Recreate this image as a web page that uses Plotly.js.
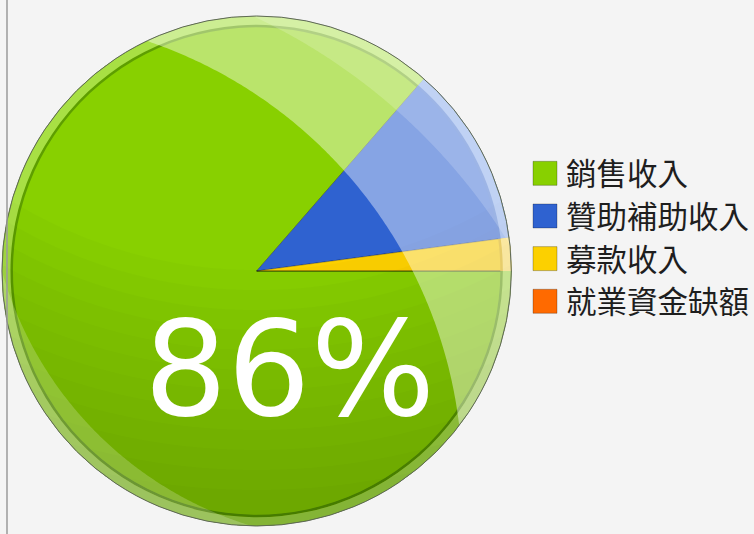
<!DOCTYPE html>
<html><head><meta charset="utf-8">
<script src="https://cdn.plot.ly/plotly-3.0.1.min.js"></script>
<style>html,body{margin:0;padding:0;background:#f4f4f4;}#chart{width:754px;height:534px;}</style>
</head><body><div id="chart"></div>
<script>
// ---- data ----
const labels = ['銷售收入', '贊助補助收入', '募款收入', '就業資金缺額'];
const values = [86.4, 11.5, 2.1, 0];
const colors = ['#88d000', '#2f62d0', '#fcd000', '#ff6a00'];
const rimColors = ['#a8e044', '#7aa0e8', '#ffe060', '#ff9a50'];
const rimLineColors = ['#5e9e00', '#3264cc', '#e0b000', '#e05a00'];

// ---- layout geometry (pixels) ----
const W = 754, H = 534;
const CX = 257, CY = 271, R = 255;
const px = x => x / W, py = y => 1 - y / H;
const dom = {x: [px(CX - R), px(CX + R)], y: [py(CY + R), py(CY - R)]};

// region inside the pie and outside a circle (c2x,c2y,R2) -> decorative gloss path
function glossPath(c2x, c2y, R2) {
  const N = 1440;
  const isIn = t => Math.hypot(CX + R * Math.cos(t) - c2x, CY + R * Math.sin(t) - c2y) > R2;
  let start = -1;
  for (let i = 0; i < N; i++) {
    const a = 2 * Math.PI * i / N, b = 2 * Math.PI * (i + 1) / N;
    if (!isIn(a) && isIn(b)) { start = i + 1; break; }
  }
  if (start < 0) return '';
  const run = [];
  for (let k = 0; k < N; k++) {
    const t = 2 * Math.PI * ((start + k) % N) / N;
    if (!isIn(t)) break;
    run.push([CX + R * Math.cos(t), CY + R * Math.sin(t)]);
  }
  const S = run[0], E = run[run.length - 1];
  const aE = Math.atan2(E[1] - c2y, E[0] - c2x), aS = Math.atan2(S[1] - c2y, S[0] - c2x);
  let d = aS - aE;
  while (d > Math.PI) d -= 2 * Math.PI;
  while (d < -Math.PI) d += 2 * Math.PI;
  const arc = [];
  for (let k = 1; k < 200; k++) {
    const t = aE + d * k / 200;
    arc.push([c2x + R2 * Math.cos(t), c2y + R2 * Math.sin(t)]);
  }
  const all = run.concat(arc);
  return 'M' + all.map(p => px(p[0]).toFixed(5) + ',' + py(p[1]).toFixed(5)).join('L') + 'Z';
}
const gloss = (c, r, fill) => ({type: 'path', xref: 'paper', yref: 'paper', path: glossPath(c[0], c[1], r),
  fillcolor: fill, line: {width: 0}, layer: 'above'});

const total = values.reduce((a, b) => a + b, 0);
const pctText = Math.round(values[0] / total * 100) + '%';

const base = {type: 'pie', labels: labels, values: values, sort: false, direction: 'clockwise',
  rotation: 90, textinfo: 'none', domain: dom, hoverinfo: 'label+percent'};

const traces = [
  Object.assign({}, base, {marker: {colors: colors, line: {color: 'rgba(0,0,0,0.25)', width: 1}}, showlegend: true}),
  Object.assign({}, base, {hole: (R - 11) / R, marker: {colors: rimLineColors, line: {width: 0}}, showlegend: false, hoverinfo: 'skip'}),
  Object.assign({}, base, {hole: (R - 8.5) / R, marker: {colors: rimColors, line: {width: 0}}, showlegend: false, hoverinfo: 'skip'})
];

const shapes = [];
// soft darkening towards the bottom (many faint layers)
for (let k = 0; k < 12; k++) shapes.push(gloss([257, -200], 470 + k * 20, 'rgba(0,30,0,0.016)'));
shapes.push(
  gloss([0, 480], 463, 'rgba(255,255,255,0.42)'),
  gloss([0, 560], 600, 'rgba(255,255,255,0.18)'),
  gloss([360, 170], 372, 'rgba(255,255,255,0.2)'),
  {type: 'circle', xref: 'paper', yref: 'paper', x0: px(CX - R), x1: px(CX + R), y0: py(CY + R), y1: py(CY - R), line: {color: '#5f6a55', width: 1}, layer: 'above'},
  {type: 'line', xref: 'paper', yref: 'paper', x0: px(7), x1: px(7), y0: 0, y1: 1, line: {color: '#9a9a9a', width: 1.5}}
);

const layout = {
  width: W, height: H,
  margin: {l: 0, r: 0, t: 0, b: 0},
  paper_bgcolor: '#f4f4f4', plot_bgcolor: '#f4f4f4',
  showlegend: true,
  legend: {x: px(527), xanchor: 'left', y: py(147), yanchor: 'top', bgcolor: 'rgba(0,0,0,0)',
    font: {family: 'Noto Sans CJK TC', size: 30.5, color: '#1e1e1e'}, traceorder: 'normal'},
  shapes: shapes,
  annotations: [{text: pctText, x: px(290), y: py(369), xref: 'paper', yref: 'paper', showarrow: false,
    xanchor: 'center', yanchor: 'middle', font: {family: 'DejaVu Sans', size: 131, color: '#ffffff'}}]
};

Plotly.newPlot('chart', traces, layout, {displayModeBar: false, staticPlot: true}).then(() => {
  document.querySelectorAll('.legendpoints path.legendpie').forEach(p => p.setAttribute('d', 'M11,12H-13V-12H11Z'));
});
</script>
</body></html>
